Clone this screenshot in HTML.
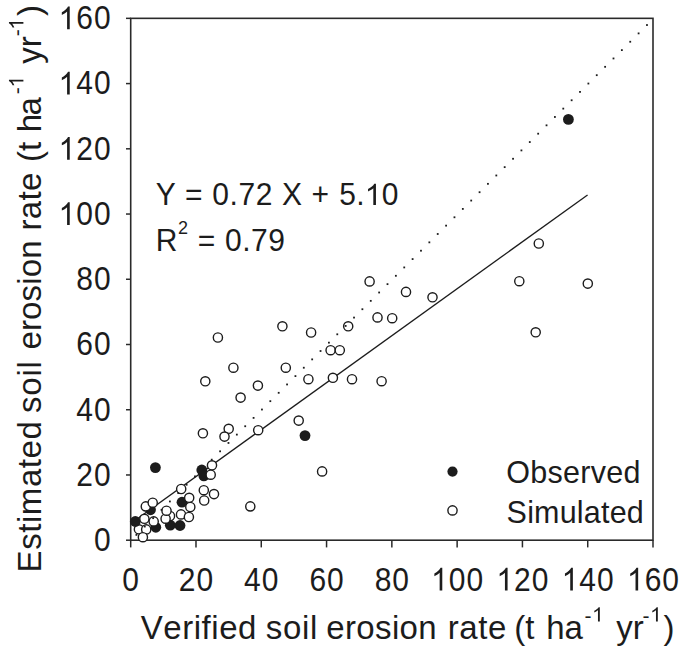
<!DOCTYPE html>
<html><head><meta charset="utf-8"><style>
html,body{margin:0;padding:0;background:#fff;}
body{width:685px;height:653px;overflow:hidden;font-family:"Liberation Sans",sans-serif;}
svg{display:block;}
text{font-kerning:none;font-variant-ligatures:none;font-feature-settings:"kern" 0,"liga" 0;}
</style></head><body>
<svg width="685" height="653" viewBox="0 0 685 653"><rect width="685" height="653" fill="#fff"/><rect x="130.7" y="18.34" width="522.30" height="521.86" fill="none" stroke="#2a2a2a" stroke-width="1.6"/><g stroke="#2a2a2a" stroke-width="1.5"><line x1="125.99999999999999" y1="540.20" x2="130.7" y2="540.20"/><line x1="130.70" y1="540.2" x2="130.70" y2="547.4000000000001"/><line x1="125.99999999999999" y1="474.97" x2="130.7" y2="474.97"/><line x1="195.99" y1="540.2" x2="195.99" y2="547.4000000000001"/><line x1="125.99999999999999" y1="409.74" x2="130.7" y2="409.74"/><line x1="261.28" y1="540.2" x2="261.28" y2="547.4000000000001"/><line x1="125.99999999999999" y1="344.50" x2="130.7" y2="344.50"/><line x1="326.56" y1="540.2" x2="326.56" y2="547.4000000000001"/><line x1="125.99999999999999" y1="279.27" x2="130.7" y2="279.27"/><line x1="391.85" y1="540.2" x2="391.85" y2="547.4000000000001"/><line x1="125.99999999999999" y1="214.04" x2="130.7" y2="214.04"/><line x1="457.14" y1="540.2" x2="457.14" y2="547.4000000000001"/><line x1="125.99999999999999" y1="148.81" x2="130.7" y2="148.81"/><line x1="522.43" y1="540.2" x2="522.43" y2="547.4000000000001"/><line x1="125.99999999999999" y1="83.58" x2="130.7" y2="83.58"/><line x1="587.72" y1="540.2" x2="587.72" y2="547.4000000000001"/><line x1="125.99999999999999" y1="18.34" x2="130.7" y2="18.34"/><line x1="653.00" y1="540.2" x2="653.00" y2="547.4000000000001"/></g><line x1="133.96" y1="521.22" x2="587.55" y2="194.91" stroke="#1c1c1c" stroke-width="1.3"/><g fill="#fff" stroke="#1c1c1c" stroke-width="1.4"><circle cx="138.9" cy="529.3" r="4.6"/></g><g fill="#1c1c1c"><circle cx="568.4" cy="119.4" r="5.4"/><circle cx="155.4" cy="467.6" r="5.4"/><circle cx="201.8" cy="470.0" r="5.4"/><circle cx="203.9" cy="475.9" r="5.4"/><circle cx="305.0" cy="435.6" r="5.4"/><circle cx="182.0" cy="502.2" r="5.4"/><circle cx="150.5" cy="509.8" r="5.4"/><circle cx="135.3" cy="521.5" r="5.4"/><circle cx="155.8" cy="527.3" r="5.4"/><circle cx="170.3" cy="525.2" r="5.4"/><circle cx="180.0" cy="525.5" r="5.4"/></g><g fill="#fff" stroke="#1c1c1c" stroke-width="1.4"><circle cx="538.8" cy="243.5" r="4.6"/><circle cx="519.3" cy="281.2" r="4.6"/><circle cx="587.8" cy="283.6" r="4.6"/><circle cx="535.7" cy="332.3" r="4.6"/><circle cx="369.6" cy="281.4" r="4.6"/><circle cx="406.0" cy="291.9" r="4.6"/><circle cx="432.5" cy="297.3" r="4.6"/><circle cx="377.5" cy="317.4" r="4.6"/><circle cx="392.2" cy="318.2" r="4.6"/><circle cx="348.2" cy="326.3" r="4.6"/><circle cx="311.1" cy="332.5" r="4.6"/><circle cx="282.4" cy="326.3" r="4.6"/><circle cx="217.9" cy="337.5" r="4.6"/><circle cx="330.6" cy="350.2" r="4.6"/><circle cx="339.8" cy="350.2" r="4.6"/><circle cx="233.4" cy="367.7" r="4.6"/><circle cx="285.8" cy="367.7" r="4.6"/><circle cx="205.3" cy="381.3" r="4.6"/><circle cx="257.9" cy="385.6" r="4.6"/><circle cx="240.6" cy="397.6" r="4.6"/><circle cx="308.4" cy="379.2" r="4.6"/><circle cx="332.9" cy="377.8" r="4.6"/><circle cx="352.0" cy="379.2" r="4.6"/><circle cx="381.6" cy="381.2" r="4.6"/><circle cx="298.7" cy="420.6" r="4.6"/><circle cx="202.9" cy="433.3" r="4.6"/><circle cx="228.7" cy="428.8" r="4.6"/><circle cx="224.5" cy="436.6" r="4.6"/><circle cx="322.1" cy="471.4" r="4.6"/><circle cx="250.3" cy="506.4" r="4.6"/><circle cx="212.0" cy="465.3" r="4.6"/><circle cx="210.7" cy="474.7" r="4.6"/><circle cx="203.8" cy="490.2" r="4.6"/><circle cx="214.0" cy="494.1" r="4.6"/><circle cx="204.2" cy="500.5" r="4.6"/><circle cx="181.2" cy="489.0" r="4.6"/><circle cx="189.2" cy="497.8" r="4.6"/><circle cx="190.3" cy="507.0" r="4.6"/><circle cx="181.0" cy="514.4" r="4.6"/><circle cx="188.9" cy="517.0" r="4.6"/><circle cx="170.0" cy="516.0" r="4.6"/><circle cx="165.6" cy="518.7" r="4.6"/><circle cx="166.5" cy="510.7" r="4.6"/><circle cx="145.8" cy="506.4" r="4.6"/><circle cx="152.7" cy="502.7" r="4.6"/><circle cx="144.4" cy="518.8" r="4.6"/><circle cx="153.7" cy="521.4" r="4.6"/><circle cx="146.2" cy="529.4" r="4.6"/><circle cx="142.9" cy="537.2" r="4.6"/><circle cx="258.2" cy="430.2" r="4.6"/></g><g fill="#1c1c1c"><rect x="135.50" y="534.00" width="1.8" height="1.8"/><rect x="143.87" y="525.64" width="1.8" height="1.8"/><rect x="152.24" y="517.28" width="1.8" height="1.8"/><rect x="160.61" y="508.92" width="1.8" height="1.8"/><rect x="168.98" y="500.57" width="1.8" height="1.8"/><rect x="177.35" y="492.21" width="1.8" height="1.8"/><rect x="185.72" y="483.85" width="1.8" height="1.8"/><rect x="194.09" y="475.49" width="1.8" height="1.8"/><rect x="202.46" y="467.13" width="1.8" height="1.8"/><rect x="210.83" y="458.77" width="1.8" height="1.8"/><rect x="219.20" y="450.41" width="1.8" height="1.8"/><rect x="227.57" y="442.06" width="1.8" height="1.8"/><rect x="235.94" y="433.70" width="1.8" height="1.8"/><rect x="244.31" y="425.34" width="1.8" height="1.8"/><rect x="252.68" y="416.98" width="1.8" height="1.8"/><rect x="261.05" y="408.62" width="1.8" height="1.8"/><rect x="269.42" y="400.26" width="1.8" height="1.8"/><rect x="277.79" y="391.91" width="1.8" height="1.8"/><rect x="286.16" y="383.55" width="1.8" height="1.8"/><rect x="294.53" y="375.19" width="1.8" height="1.8"/><rect x="302.90" y="366.83" width="1.8" height="1.8"/><rect x="311.27" y="358.47" width="1.8" height="1.8"/><rect x="319.64" y="350.11" width="1.8" height="1.8"/><rect x="328.01" y="341.75" width="1.8" height="1.8"/><rect x="336.38" y="333.40" width="1.8" height="1.8"/><rect x="344.75" y="325.04" width="1.8" height="1.8"/><rect x="353.12" y="316.68" width="1.8" height="1.8"/><rect x="361.49" y="308.32" width="1.8" height="1.8"/><rect x="369.86" y="299.96" width="1.8" height="1.8"/><rect x="378.23" y="291.60" width="1.8" height="1.8"/><rect x="386.60" y="283.24" width="1.8" height="1.8"/><rect x="394.97" y="274.89" width="1.8" height="1.8"/><rect x="403.34" y="266.53" width="1.8" height="1.8"/><rect x="411.71" y="258.17" width="1.8" height="1.8"/><rect x="420.08" y="249.81" width="1.8" height="1.8"/><rect x="428.45" y="241.45" width="1.8" height="1.8"/><rect x="436.82" y="233.09" width="1.8" height="1.8"/><rect x="445.19" y="224.73" width="1.8" height="1.8"/><rect x="453.56" y="216.38" width="1.8" height="1.8"/><rect x="461.93" y="208.02" width="1.8" height="1.8"/><rect x="470.30" y="199.66" width="1.8" height="1.8"/><rect x="478.67" y="191.30" width="1.8" height="1.8"/><rect x="487.04" y="182.94" width="1.8" height="1.8"/><rect x="495.41" y="174.58" width="1.8" height="1.8"/><rect x="503.78" y="166.23" width="1.8" height="1.8"/><rect x="512.15" y="157.87" width="1.8" height="1.8"/><rect x="520.52" y="149.51" width="1.8" height="1.8"/><rect x="528.89" y="141.15" width="1.8" height="1.8"/><rect x="537.26" y="132.79" width="1.8" height="1.8"/><rect x="545.63" y="124.43" width="1.8" height="1.8"/><rect x="554.00" y="116.07" width="1.8" height="1.8"/><rect x="562.37" y="107.72" width="1.8" height="1.8"/><rect x="570.74" y="99.36" width="1.8" height="1.8"/><rect x="579.11" y="91.00" width="1.8" height="1.8"/><rect x="587.48" y="82.64" width="1.8" height="1.8"/><rect x="595.85" y="74.28" width="1.8" height="1.8"/><rect x="604.22" y="65.92" width="1.8" height="1.8"/><rect x="612.59" y="57.56" width="1.8" height="1.8"/><rect x="620.96" y="49.21" width="1.8" height="1.8"/><rect x="629.33" y="40.85" width="1.8" height="1.8"/><rect x="637.70" y="32.49" width="1.8" height="1.8"/><rect x="646.07" y="24.13" width="1.8" height="1.8"/></g><g fill="#1c1c1c"><text transform="translate(93.92,551.10) scale(1,1.1)" font-family="Liberation Sans, sans-serif" font-size="30" x="0.00" y="0">0</text><text transform="translate(122.36,590.50) scale(1,1.1)" font-family="Liberation Sans, sans-serif" font-size="30" x="0.00" y="0">0</text><text transform="translate(76.23,485.87) scale(1,1.1)" font-family="Liberation Sans, sans-serif" font-size="30" x="0.00 17.68" y="0">20</text><text transform="translate(178.80,590.50) scale(1,1.1)" font-family="Liberation Sans, sans-serif" font-size="30" x="0.00 17.68" y="0">20</text><text transform="translate(76.23,420.64) scale(1,1.1)" font-family="Liberation Sans, sans-serif" font-size="30" x="0.00 17.68" y="0">40</text><text transform="translate(244.09,590.50) scale(1,1.1)" font-family="Liberation Sans, sans-serif" font-size="30" x="0.00 17.68" y="0">40</text><text transform="translate(76.23,355.40) scale(1,1.1)" font-family="Liberation Sans, sans-serif" font-size="30" x="0.00 17.68" y="0">60</text><text transform="translate(309.38,590.50) scale(1,1.1)" font-family="Liberation Sans, sans-serif" font-size="30" x="0.00 17.68" y="0">60</text><text transform="translate(76.23,290.17) scale(1,1.1)" font-family="Liberation Sans, sans-serif" font-size="30" x="0.00 17.68" y="0">80</text><text transform="translate(374.67,590.50) scale(1,1.1)" font-family="Liberation Sans, sans-serif" font-size="30" x="0.00 17.68" y="0">80</text><text transform="translate(58.55,224.94) scale(1,1.1)" font-family="Liberation Sans, sans-serif" font-size="30" x="0.00 17.68 35.37" y="0"> 00</text><path transform="translate(58.55,224.94) scale(0.01465,-0.01611)" d="M763 0L583 0L583 1098Q518 1038.6 412.5 979.2Q307 919.9 223 890.2L223 1056.8Q374 1124.7 487 1221.4Q600 1318.1 647 1409L763 1409Z"/><text transform="translate(431.11,590.50) scale(1,1.1)" font-family="Liberation Sans, sans-serif" font-size="30" x="0.00 17.68 35.37" y="0"> 00</text><path transform="translate(431.11,590.50) scale(0.01465,-0.01611)" d="M763 0L583 0L583 1098Q518 1038.6 412.5 979.2Q307 919.9 223 890.2L223 1056.8Q374 1124.7 487 1221.4Q600 1318.1 647 1409L763 1409Z"/><text transform="translate(58.55,159.71) scale(1,1.1)" font-family="Liberation Sans, sans-serif" font-size="30" x="0.00 17.68 35.37" y="0"> 20</text><path transform="translate(58.55,159.71) scale(0.01465,-0.01611)" d="M763 0L583 0L583 1098Q518 1038.6 412.5 979.2Q307 919.9 223 890.2L223 1056.8Q374 1124.7 487 1221.4Q600 1318.1 647 1409L763 1409Z"/><text transform="translate(496.40,590.50) scale(1,1.1)" font-family="Liberation Sans, sans-serif" font-size="30" x="0.00 17.68 35.37" y="0"> 20</text><path transform="translate(496.40,590.50) scale(0.01465,-0.01611)" d="M763 0L583 0L583 1098Q518 1038.6 412.5 979.2Q307 919.9 223 890.2L223 1056.8Q374 1124.7 487 1221.4Q600 1318.1 647 1409L763 1409Z"/><text transform="translate(58.55,94.48) scale(1,1.1)" font-family="Liberation Sans, sans-serif" font-size="30" x="0.00 17.68 35.37" y="0"> 40</text><path transform="translate(58.55,94.48) scale(0.01465,-0.01611)" d="M763 0L583 0L583 1098Q518 1038.6 412.5 979.2Q307 919.9 223 890.2L223 1056.8Q374 1124.7 487 1221.4Q600 1318.1 647 1409L763 1409Z"/><text transform="translate(561.69,590.50) scale(1,1.1)" font-family="Liberation Sans, sans-serif" font-size="30" x="0.00 17.68 35.37" y="0"> 40</text><path transform="translate(561.69,590.50) scale(0.01465,-0.01611)" d="M763 0L583 0L583 1098Q518 1038.6 412.5 979.2Q307 919.9 223 890.2L223 1056.8Q374 1124.7 487 1221.4Q600 1318.1 647 1409L763 1409Z"/><text transform="translate(58.55,29.24) scale(1,1.1)" font-family="Liberation Sans, sans-serif" font-size="30" x="0.00 17.68 35.37" y="0"> 60</text><path transform="translate(58.55,29.24) scale(0.01465,-0.01611)" d="M763 0L583 0L583 1098Q518 1038.6 412.5 979.2Q307 919.9 223 890.2L223 1056.8Q374 1124.7 487 1221.4Q600 1318.1 647 1409L763 1409Z"/><text transform="translate(626.98,590.50) scale(1,1.1)" font-family="Liberation Sans, sans-serif" font-size="30" x="0.00 17.68 35.37" y="0"> 60</text><path transform="translate(626.98,590.50) scale(0.01465,-0.01611)" d="M763 0L583 0L583 1098Q518 1038.6 412.5 979.2Q307 919.9 223 890.2L223 1056.8Q374 1124.7 487 1221.4Q600 1318.1 647 1409L763 1409Z"/><text transform="translate(155.75,204.90) scale(1,1.03)" font-family="Liberation Sans, sans-serif" font-size="30">Y</text><text transform="translate(185.00,204.90) scale(1,1.03)" font-family="Liberation Sans, sans-serif" font-size="30">=</text><text transform="translate(212.35,204.90) scale(1,1.03)" font-family="Liberation Sans, sans-serif" font-size="30" x="0.00 17.28 26.22 43.50" y="0">0.72</text><text transform="translate(281.95,204.90) scale(1,1.03)" font-family="Liberation Sans, sans-serif" font-size="30">X</text><text transform="translate(311.60,204.90) scale(1,1.03)" font-family="Liberation Sans, sans-serif" font-size="30">+</text><text transform="translate(339.35,204.90) scale(1,1.03)" font-family="Liberation Sans, sans-serif" font-size="30" x="0.00 16.88 25.42 42.30" y="0">5. 0</text><path transform="translate(364.77,204.90) scale(0.01465,-0.01509)" d="M763 0L583 0L583 1098Q518 1038.6 412.5 979.2Q307 919.9 223 890.2L223 1056.8Q374 1124.7 487 1221.4Q600 1318.1 647 1409L763 1409Z"/><text transform="translate(155.80,250.70) scale(1,1.03)" font-family="Liberation Sans, sans-serif" font-size="30">R</text><text transform="translate(178.00,234.40) scale(1,1.0)" font-family="Liberation Sans, sans-serif" font-size="18">2</text><text transform="translate(197.80,250.70) scale(1,1.03)" font-family="Liberation Sans, sans-serif" font-size="30">=</text><text transform="translate(224.95,250.70) scale(1,1.03)" font-family="Liberation Sans, sans-serif" font-size="30" x="0.00 17.18 26.02 43.20" y="0">0.79</text><text transform="translate(506.30,482.80) scale(1,1.0)" font-family="Liberation Sans, sans-serif" font-size="30.5" textLength="134.10" lengthAdjust="spacing">Observed</text><text transform="translate(506.60,522.60) scale(1,1.0)" font-family="Liberation Sans, sans-serif" font-size="30.5" textLength="137.20" lengthAdjust="spacing">Simulated</text><text transform="translate(140.75,638.80) scale(1,1.0)" font-family="Liberation Sans, sans-serif" font-size="33" textLength="115.70" lengthAdjust="spacing">Verified</text><text transform="translate(265.80,638.80) scale(1,1.0)" font-family="Liberation Sans, sans-serif" font-size="33" textLength="51.50" lengthAdjust="spacing">soil</text><text transform="translate(326.20,638.80) scale(1,1.0)" font-family="Liberation Sans, sans-serif" font-size="33" textLength="110.50" lengthAdjust="spacing">erosion</text><text transform="translate(447.75,638.80) scale(1,1.0)" font-family="Liberation Sans, sans-serif" font-size="33" textLength="58.60" lengthAdjust="spacing">rate</text><text transform="translate(514.20,638.80) scale(1,1.0)" font-family="Liberation Sans, sans-serif" font-size="33">(t</text><text transform="translate(546.25,638.80) scale(1,1.0)" font-family="Liberation Sans, sans-serif" font-size="33">ha</text><text transform="translate(584.60,622.60) scale(1,1.0)" font-family="Liberation Sans, sans-serif" font-size="21">-</text><path transform="translate(592.00,621.60) scale(0.01025,-0.01025)" d="M763 0L583 0L583 1098Q518 1038.6 412.5 979.2Q307 919.9 223 890.2L223 1056.8Q374 1124.7 487 1221.4Q600 1318.1 647 1409L763 1409Z"/><text transform="translate(616.25,638.80) scale(1,1.0)" font-family="Liberation Sans, sans-serif" font-size="33">yr</text><text transform="translate(642.60,622.60) scale(1,1.0)" font-family="Liberation Sans, sans-serif" font-size="21">-</text><path transform="translate(650.00,621.60) scale(0.01025,-0.01025)" d="M763 0L583 0L583 1098Q518 1038.6 412.5 979.2Q307 919.9 223 890.2L223 1056.8Q374 1124.7 487 1221.4Q600 1318.1 647 1409L763 1409Z"/><text transform="translate(663.50,638.80) scale(1,1.0)" font-family="Liberation Sans, sans-serif" font-size="33">)</text><text transform="translate(41.40,572.45) rotate(-90) scale(1,1.0)" font-family="Liberation Sans, sans-serif" font-size="33" textLength="151.30" lengthAdjust="spacing">Estimated</text><text transform="translate(41.40,413.10) rotate(-90) scale(1,1.0)" font-family="Liberation Sans, sans-serif" font-size="33" textLength="52.00" lengthAdjust="spacing">soil</text><text transform="translate(41.40,349.60) rotate(-90) scale(1,1.0)" font-family="Liberation Sans, sans-serif" font-size="33" textLength="109.10" lengthAdjust="spacing">erosion</text><text transform="translate(41.40,230.55) rotate(-90) scale(1,1.0)" font-family="Liberation Sans, sans-serif" font-size="33" textLength="57.90" lengthAdjust="spacing">rate</text><text transform="translate(41.40,162.00) rotate(-90) scale(1,1.0)" font-family="Liberation Sans, sans-serif" font-size="33">(t</text><text transform="translate(41.40,132.35) rotate(-90) scale(1,1.0)" font-family="Liberation Sans, sans-serif" font-size="33" textLength="35.10" lengthAdjust="spacing">ha</text><text transform="translate(23.60,94.30) rotate(-90) scale(1,1.0)" font-family="Liberation Sans, sans-serif" font-size="21">-</text><path transform="translate(23.40,87.60) rotate(-90) scale(0.01025,-0.01025)" d="M763 0L583 0L583 1098Q518 1038.6 412.5 979.2Q307 919.9 223 890.2L223 1056.8Q374 1124.7 487 1221.4Q600 1318.1 647 1409L763 1409Z"/><text transform="translate(41.40,63.65) rotate(-90) scale(1,1.0)" font-family="Liberation Sans, sans-serif" font-size="33">yr</text><text transform="translate(23.60,36.20) rotate(-90) scale(1,1.0)" font-family="Liberation Sans, sans-serif" font-size="21">-</text><path transform="translate(23.40,29.80) rotate(-90) scale(0.01025,-0.01025)" d="M763 0L583 0L583 1098Q518 1038.6 412.5 979.2Q307 919.9 223 890.2L223 1056.8Q374 1124.7 487 1221.4Q600 1318.1 647 1409L763 1409Z"/><text transform="translate(41.40,16.10) rotate(-90) scale(1,1.0)" font-family="Liberation Sans, sans-serif" font-size="33">)</text></g><circle cx="452.5" cy="471.6" r="5.1" fill="#1c1c1c"/><circle cx="452.5" cy="510.4" r="4.6" fill="#fff" stroke="#1c1c1c" stroke-width="1.4"/></svg>
</body></html>
